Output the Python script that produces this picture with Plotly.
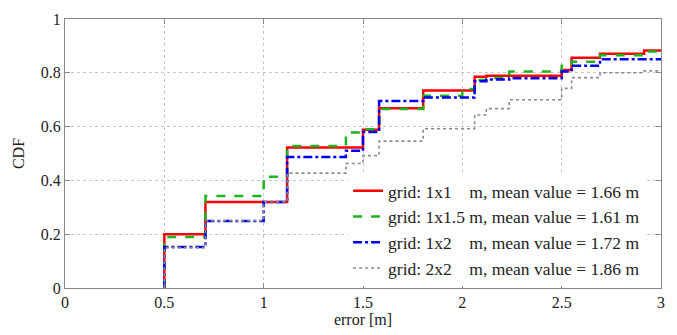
import plotly.graph_objects as go

# step positions (error in m) and CDF values after each step
steps = [0.5, 0.707, 1.0, 1.118, 1.414, 1.5, 1.581, 1.803, 2.0, 2.062, 2.121, 2.236, 2.5, 2.55, 2.693, 2.915, 3.0]
cdf_1x1 = [0.20, 0.32, 0.32, 0.522, 0.522, 0.588, 0.668, 0.734, 0.734, 0.785, 0.789, 0.789, 0.81, 0.856, 0.871, 0.883, 0.883]
cdf_1x15 = [0.19, 0.342, 0.414, 0.528, 0.578, 0.59, 0.665, 0.715, 0.740, 0.773, 0.781, 0.805, 0.826, 0.841, 0.865, 0.879, 0.879]
cdf_1x2 = [0.152, 0.249, 0.32, 0.487, 0.51, 0.58, 0.695, 0.708, 0.708, 0.769, 0.775, 0.78, 0.805, 0.826, 0.85, 0.85, 0.85]
cdf_2x2 = [0.15, 0.25, 0.32, 0.427, 0.463, 0.492, 0.546, 0.592, 0.592, 0.643, 0.667, 0.700, 0.742, 0.782, 0.800, 0.807, 0.807]

names = [
    "grid: 1x1\u00a0\u00a0\u00a0\u00a0m, mean value = 1.66 m",
    "grid: 1x1.5 m, mean value = 1.61 m",
    "grid: 1x2\u00a0\u00a0\u00a0\u00a0m, mean value = 1.72 m",
    "grid: 2x2\u00a0\u00a0\u00a0\u00a0m, mean value = 1.86 m",
]
series = [cdf_1x1, cdf_1x15, cdf_1x2, cdf_2x2]
colors = ["#ff0000", "#1fb31f", "#0000ee", "#8c8c8c"]
dashes = ["solid", "dash", "dashdot", "dot"]
widths = [2.5, 2.5, 2.5, 1.6]

SERIF = "Times New Roman, Liberation Serif, serif"

fig = go.Figure()
for name, vals, c, d, w in zip(names, series, colors, dashes, widths):
    fig.add_trace(go.Scatter(
        x=[steps[0]] + steps, y=[0] + vals,
        mode="lines", line=dict(color=c, dash=d, width=w, shape="hv"),
        name=name,
    ))

axis_common = dict(
    showline=True, mirror="allticks", linecolor="#8a8a8a", linewidth=1,
    ticks="inside", ticklen=5, tickcolor="#8a8a8a",
    showgrid=True, gridcolor="#c8c8c8", griddash="dot", gridwidth=1,
    zeroline=False,
    tickfont=dict(family=SERIF, size=16, color="#222"),
)

fig.update_layout(
    width=677, height=335,
    margin=dict(l=65, r=16, t=11, b=47),
    paper_bgcolor="white", plot_bgcolor="white",
    font=dict(family=SERIF, size=16, color="#222"),
    xaxis=dict(range=[0, 3], tickvals=[0, 0.5, 1, 1.5, 2, 2.5, 3],
               ticktext=["0", "0.5", "1", "1.5", "2", "2.5", "3"],
               title=dict(text="error [m]", standoff=2, font=dict(size=16)), **axis_common),
    yaxis=dict(range=[0, 1], tickvals=[0, 0.2, 0.4, 0.6, 0.8, 1],
               ticktext=["0", "0.2", "0.4", "0.6", "0.8", "1"],
               title=dict(text="CDF", standoff=12, font=dict(size=16)), **axis_common),
    legend=dict(x=0.475, y=0.008, xanchor="left", yanchor="bottom",
                bgcolor="white", borderwidth=0,
                font=dict(family=SERIF, size=17.5, color="#222"),
                tracegroupgap=0, itemwidth=30),
    showlegend=True,
)

fig.write_html("out.html", config={"displayModeBar": False},
               post_script="document.body.style.margin='0px';")
